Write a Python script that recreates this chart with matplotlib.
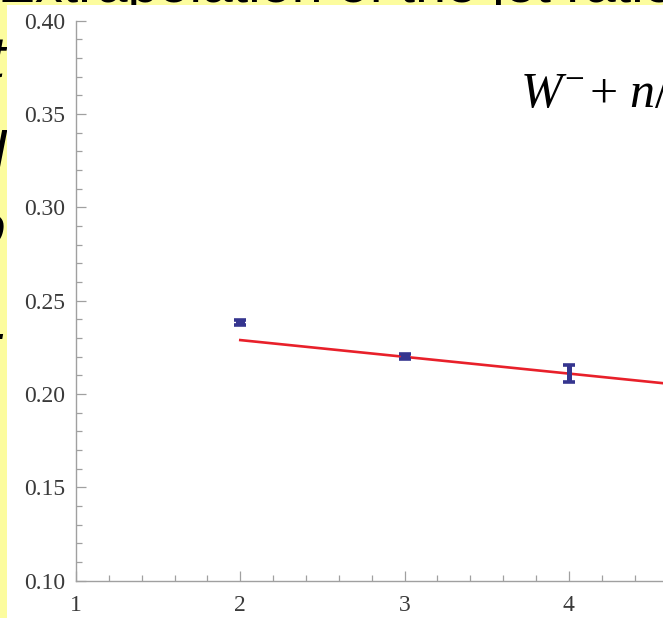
import matplotlib
matplotlib.use("Agg")
import matplotlib.pyplot as plt
from matplotlib.patches import Rectangle
from matplotlib.transforms import Bbox
from matplotlib.ticker import MultipleLocator, FixedLocator, FormatStrFormatter

# ---- data ----
n_values = [2, 3, 4]
ratio = [0.2385, 0.2200, 0.2110]
ratio_err = [0.0013, 0.0012, 0.0045]

fit_x = [2.0, 6.0]
fit_y = [0.2289, 0.1930]

x_ticks = [1, 2, 3, 4, 5]
y_ticks = [0.10, 0.15, 0.20, 0.25, 0.30, 0.35, 0.40]

W, H = 663, 618
fig = plt.figure(figsize=(W / 100, H / 100), dpi=100)
fig.patch.set_facecolor("#fcfc9e")

plt.rcParams["mathtext.fontset"] = "custom"
plt.rcParams["mathtext.rm"] = "Liberation Serif"
plt.rcParams["mathtext.it"] = "Liberation Serif:italic"

TOP_STRIP = 5   # px of slide visible above the plot image
LEFT_STRIP = 7  # px of slide visible left of the plot image

# slide text around the plot image (only its edges remain visible)
top_clip = Bbox([[0, H - TOP_STRIP], [W, H]])
left_clip = Bbox([[0, 0], [LEFT_STRIP, H]])

t = fig.text(-2 / W, 1 - 2 / H, "Extrapolation of the jet ratio in W + n jets events",
             fontsize=40, family="Liberation Sans", color="black",
             ha="left", va="baseline", zorder=0)
t.set_clip_box(top_clip)

left_frags = [("r", 18), ("t", 78), ("l", 172), ("o", 246), ("-", 352)]
for ch, ypx in left_frags:
    tt = fig.text(5 / W, 1 - ypx / H, ch, fontsize=42, family="Liberation Sans",
                  style="italic", color="black", ha="right", va="baseline", zorder=0)
    tt.set_clip_box(left_clip)

# white plot image pasted on the slide
fig.add_artist(Rectangle((LEFT_STRIP / W, 0), 1, 1 - TOP_STRIP / H,
                         transform=fig.transFigure, facecolor="white",
                         edgecolor="none", zorder=0.5))

# axes geometry: x=1 at 76 px, 164.3 px per unit; y from 0.10 (580.7 px) to 0.40 (20.7 px)
px_per_unit = 164.3
x0, x1 = 1, 5
ax = fig.add_axes([76 / W, (H - 580.7) / H, (x1 - x0) * px_per_unit / W, 560 / H],
                  zorder=1)
ax.set_facecolor("none")
ax.set_xlim(x0, x1)
ax.set_ylim(0.10, 0.40)

for s in ("top", "right"):
    ax.spines[s].set_visible(False)
for s in ("left", "bottom"):
    ax.spines[s].set_color("#a0a0a0")
    ax.spines[s].set_linewidth(1.0)

ax.xaxis.set_major_locator(FixedLocator(x_ticks))
ax.xaxis.set_minor_locator(MultipleLocator(0.2))
ax.yaxis.set_major_locator(FixedLocator(y_ticks))
ax.yaxis.set_minor_locator(MultipleLocator(0.01))
ax.yaxis.set_major_formatter(FormatStrFormatter("%.2f"))
ax.tick_params(which="both", direction="in", color="#a0a0a0", width=0.9)
ax.tick_params(which="major", length=7.5)
ax.tick_params(which="minor", length=4.5)
ax.tick_params(axis="y", which="major", pad=8, labelsize=17, labelcolor="#3a3a3a")
ax.tick_params(axis="x", which="major", pad=10, labelsize=17, labelcolor="#3a3a3a")
for lab in ax.get_xticklabels() + ax.get_yticklabels():
    lab.set_family("Liberation Serif")

ax.plot(fit_x, fit_y, color="#e8202a", lw=1.9, zorder=2)
_, caps, bars = ax.errorbar(n_values, ratio, yerr=ratio_err, fmt="none",
                            ecolor="#35358f", elinewidth=3.6, capsize=4.3,
                            capthick=2.6, zorder=3)
bars[0].set_linewidths([6.5, 6.5, 3.6])

# process label, set piece by piece for even spacing around the plus sign
label_y = 1 - 107 / H
fig.text(520 / W, label_y, r"$W^{-}$", fontsize=36, color="black",
         ha="left", va="baseline", zorder=2)
fig.text(590 / W, label_y, "+", fontsize=36, family="Liberation Serif",
         color="black", ha="left", va="baseline", zorder=2)
fig.text(629 / W, label_y, r"$n/p$", fontsize=36, color="black",
         ha="left", va="baseline", zorder=2)

fig.savefig("out.png", dpi=100, facecolor=fig.get_facecolor())
